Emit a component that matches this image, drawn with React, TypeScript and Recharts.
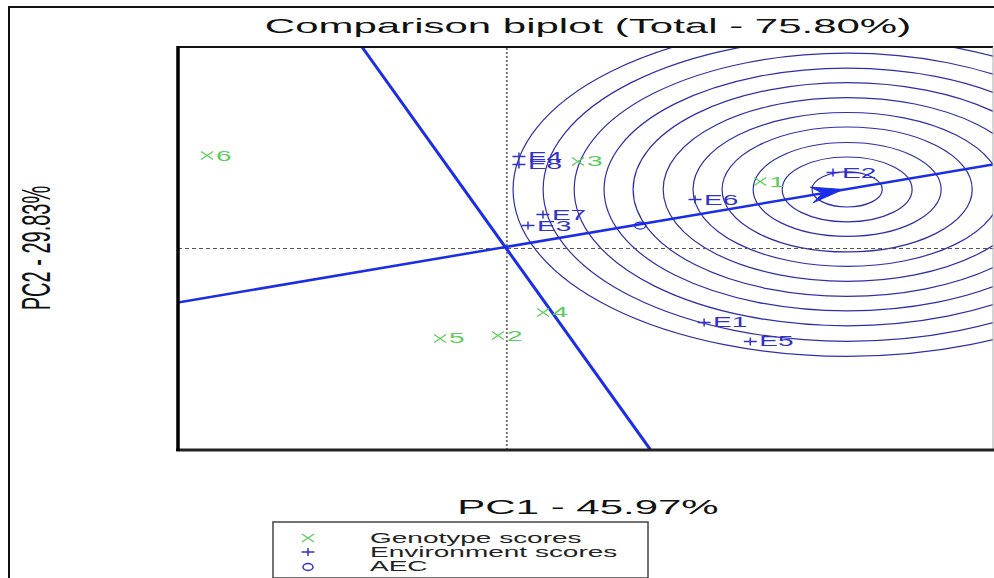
import React from 'react';
import { ComposedChart, XAxis, YAxis, Scatter, ReferenceLine, ReferenceArea } from 'recharts';

// ---- data (PC1, PC2 scores) ----
const genotypeNames = ['1', '2', '3', '4', '5', '6'];
const genotypePC1 = [1.256, -0.044, 0.353, 0.18, -0.331, -1.486];
const genotypePC2 = [0.665, -0.864, 0.864, -0.635, -0.893, 0.923];

const envNames = ['E1', 'E2', 'E3', 'E4', 'E5', 'E6', 'E7', 'E8'];
const envPC1 = [0.978, 1.617, 0.105, 0.06, 1.207, 0.933, 0.179, 0.06];
const envPC2 = [-0.734, 0.754, 0.228, 0.913, -0.923, 0.486, 0.337, 0.834];

const aecTip = { x: 1.667, y: 0.586 };
const aecMarker = [{ x: 0.661, y: 0.228 }];
const idealCenter = { x: 1.687, y: 0.586 };
const circleRadii = [0.174, 0.322, 0.466, 0.62, 0.764, 0.912, 1.061, 1.205, 1.353, 1.507, 1.656];

const aecLine = [{ x: -1.63, y: -0.536 }, { x: 2.41, y: 0.834 }];
const perpLine = [{ x: -0.718, y: 2.0 }, { x: 0.711, y: -1.995 }];

const xDomain = [-1.63, 2.41];
const yDomain = [-2, 2];

const title = 'Comparison biplot (Total - 75.80%)';
const xLabel = 'PC1 - 45.97%';
const yLabel = 'PC2 - 29.83%';
const legendItems = ['Genotype scores', 'Environment scores', 'AEC'];

const genoData = genotypeNames.map((n, i) => ({ name: n, x: genotypePC1[i], y: genotypePC2[i] }));
const envData = envNames.map((n, i) => ({ name: n, x: envPC1[i], y: envPC2[i] }));

// ---- styles ----
const GREEN = '#5ccc5c';
const BLUE_TXT = '#3030d0';
const BLUE_LINE = '#1b2ee6';
const CIRCLE = '#2e2ea8';
const FONT = '"Liberation Sans", Arial, sans-serif';
const SX = 2;

const ST = ({ x, y, size, fill, anchor = 'start', children }: any) => (
  <text
    transform={`translate(${x},${y}) scale(${SX},1)`}
    fontSize={size}
    fill={fill}
    textAnchor={anchor}
    fontFamily={FONT}
  >
    {children}
  </text>
);

const Cross = ({ cx, cy, color }: any) => (
  <path
    d={`M${cx - 6},${cy - 4}L${cx + 6},${cy + 4}M${cx - 6},${cy + 4}L${cx + 6},${cy - 4}`}
    stroke={color}
    strokeWidth={1.3}
    fill="none"
  />
);
const Plus = ({ cx, cy, color }: any) => (
  <path
    d={`M${cx - 6.5},${cy}L${cx + 6.5},${cy}M${cx},${cy - 4}L${cx},${cy + 4}`}
    stroke={color}
    strokeWidth={1.5}
    fill="none"
  />
);

const GenoShape = (p: any) => {
  const { cx, cy, payload } = p;
  return (
    <g>
      <Cross cx={cx} cy={cy} color={GREEN} />
      <ST x={cx + 9} y={cy + 5} size={14} fill={GREEN}>{payload.name}</ST>
    </g>
  );
};

const EnvShape = (p: any) => {
  const { cx, cy, payload } = p;
  return (
    <g>
      <Plus cx={cx} cy={cy} color={BLUE_TXT} />
      <ST x={cx + 9} y={cy + 5} size={14} fill={BLUE_TXT}>{payload.name}</ST>
    </g>
  );
};

const AecShape = (p: any) => {
  const { cx, cy } = p;
  return <ellipse cx={cx} cy={cy} rx={5.5} ry={3.5} stroke={BLUE_LINE} strokeWidth={1.3} fill="none" />;
};

const EllipseShape = (p: any) => {
  const { x, y, width, height } = p;
  return (
    <ellipse
      cx={x + width / 2}
      cy={y + height / 2}
      rx={Math.abs(width) / 2}
      ry={Math.abs(height) / 2}
      stroke={CIRCLE}
      strokeWidth={1.2}
      fill="none"
      clipPath={p.clipPath}
    />
  );
};

const ArrowShape = (p: any) => {
  const { x1, y1, x2, y2 } = p;
  const a = Math.atan2(y2 - y1, x2 - x1);
  const ux = Math.cos(a), uy = Math.sin(a);
  const nx = -uy, ny = ux;
  const L = 32, W = 8;
  const pts = [
    [x2, y2],
    [x2 - L * ux + W * nx, y2 - L * uy + W * ny],
    [x2 - 0.65 * L * ux, y2 - 0.65 * L * uy],
    [x2 - L * ux - W * nx, y2 - L * uy - W * ny],
  ];
  return <polygon points={pts.map((q) => q.join(',')).join(' ')} fill={BLUE_LINE} stroke={BLUE_LINE} strokeWidth={1} />;
};

export default function App() {
  return (
    <div style={{ position: 'absolute', left: 0, top: 0, width: 994, height: 578, background: '#fff' }}>
      <ComposedChart
        width={994}
        height={578}
        margin={{ top: 47, right: 1, bottom: 128, left: 178 }}
        style={{ position: 'absolute', left: 0, top: 0 }}
      >
        <XAxis type="number" dataKey="x" domain={xDomain} allowDataOverflow hide />
        <YAxis type="number" dataKey="y" domain={yDomain} allowDataOverflow hide />
        {circleRadii.map((r, i) => (
          <ReferenceArea
            key={'c' + i}
            x1={idealCenter.x - r}
            x2={idealCenter.x + r}
            y1={idealCenter.y - r}
            y2={idealCenter.y + r}
            ifOverflow="hidden"
            shape={EllipseShape}
          />
        ))}
        <ReferenceLine x={0} stroke="#777" strokeWidth={2} strokeDasharray="2 2" ifOverflow="hidden" />
        <ReferenceLine y={0} stroke="#555" strokeWidth={1} strokeDasharray="4 3" ifOverflow="hidden" />
        <ReferenceLine segment={aecLine} stroke={BLUE_LINE} strokeWidth={2.5} ifOverflow="hidden" />
        <ReferenceLine segment={perpLine} stroke={BLUE_LINE} strokeWidth={3} ifOverflow="hidden" />
        <ReferenceLine segment={[{ x: 0, y: 0 }, aecTip]} ifOverflow="hidden" shape={ArrowShape} />
        <Scatter data={aecMarker} shape={AecShape} isAnimationActive={false} />
        <Scatter data={genoData} shape={GenoShape} isAnimationActive={false} />
        <Scatter data={envData} shape={EnvShape} isAnimationActive={false} />
      </ComposedChart>
      <svg width={994} height={578} style={{ position: 'absolute', left: 0, top: 0, pointerEvents: 'none' }}>
        {/* outer frame */}
        <line x1={9} y1={6} x2={9} y2={578} stroke="#111" strokeWidth={2} />
        <line x1={8} y1={7} x2={994} y2={7} stroke="#111" strokeWidth={2} />
        {/* plot frame */}
        <line x1={178} y1={47} x2={993} y2={47} stroke="#111" strokeWidth={2} />
        <line x1={993} y1={47} x2={993} y2={450} stroke="#aaa" strokeWidth={1} />
        <line x1={176} y1={450} x2={994} y2={450} stroke="#222" strokeWidth={3} />
        <line x1={178} y1={46} x2={178} y2={451} stroke="#000" strokeWidth={3.5} />
        {/* title and axis labels */}
        <ST x={588} y={33} size={21} fill="#111" anchor="middle">{title}</ST>
        <ST x={588} y={514} size={21} fill="#111" anchor="middle">{xLabel}</ST>
        <text
          transform={`translate(50,248) scale(2,1) rotate(-90)`}
          fontSize={20}
          fill="#111"
          textAnchor="middle"
          fontFamily={FONT}
        >
          {yLabel}
        </text>
        {/* legend */}
        <rect x={273} y={522} width={375} height={56} fill="#fff" stroke="#444" strokeWidth={1.5} />
        <Cross cx={308} cy={538} color={GREEN} />
        <Plus cx={308} cy={552} color={BLUE_TXT} />
        <ellipse cx={308} cy={567} rx={5} ry={3.5} stroke={BLUE_TXT} strokeWidth={1.5} fill="none" />
        {legendItems.map((t, i) => (
          <ST key={t} x={370} y={543 + i * 14} size={14} fill="#222">{t}</ST>
        ))}
      </svg>
    </div>
  );
}
